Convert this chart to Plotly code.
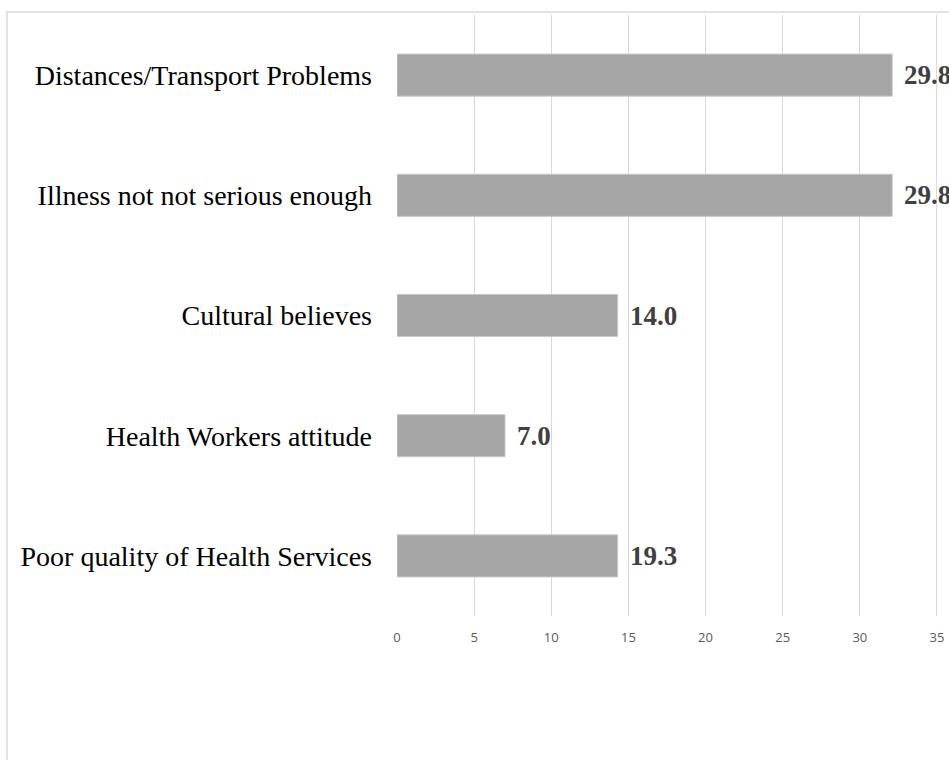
"""Horizontal bar chart: reasons for not using health services."""

import plotly.graph_objects as go

categories = [
    "Distances/Transport Problems",
    "Illness not not serious enough",
    "Cultural believes",
    "Health Workers attitude",
    "Poor quality of Health Services",
]
bar_values = [32.1, 32.1, 14.3, 7.0, 14.3]
bar_labels = ["29.8", "29.8", "14.0", "7.0", "19.3"]
x_ticks = [0, 5, 10, 15, 20, 25, 30, 35]

BAR_COLOR = "#a5a5a5"
GRID_COLOR = "#d9d9d9"
SERIF = "Liberation Serif, Times New Roman, serif"

fig = go.Figure(
    go.Bar(
        x=bar_values,
        y=categories,
        orientation="h",
        marker=dict(color=BAR_COLOR, line=dict(color="#c8c8c8", width=1)),
        hoverinfo="x+y",
    )
)

for cat, val, lab in zip(categories, bar_values, bar_labels):
    fig.add_annotation(
        x=val,
        y=cat,
        text=f"<b>{lab}</b>",
        showarrow=False,
        xanchor="left",
        xshift=10,
        font=dict(family=SERIF, size=27, color="#404040"),
    )

# chart-area border (cropped on the right and bottom in the original)
fig.add_shape(
    type="rect",
    xref="paper",
    yref="paper",
    x0=-0.7065,
    x1=1.2,
    y0=-0.5,
    y1=1.005,
    line=dict(color=GRID_COLOR, width=1.5),
    layer="below",
)

fig.update_layout(
    width=949,
    height=760,
    margin=dict(l=397, r=0, t=15, b=144),
    paper_bgcolor="white",
    plot_bgcolor="white",
    bargap=0.65,
    showlegend=False,
    xaxis=dict(
        range=[0, 35.78],
        tickvals=x_ticks,
        showgrid=True,
        gridcolor=GRID_COLOR,
        gridwidth=1,
        zeroline=False,
        showline=False,
        ticks="",
        ticklabelstandoff=12,
        tickfont=dict(family="Open Sans, Liberation Sans, sans-serif", size=13, color="#595959"),
    ),
    yaxis=dict(
        categoryorder="array",
        categoryarray=categories[::-1],
        showgrid=False,
        zeroline=False,
        showline=False,
        ticks="",
        ticklabelstandoff=24,
        tickfont=dict(family=SERIF, size=28, color="#000000"),
    ),
)

fig.write_html(
    "out.html",
    config={"displayModeBar": False},
    post_script="document.body.style.margin = '0';",
)
